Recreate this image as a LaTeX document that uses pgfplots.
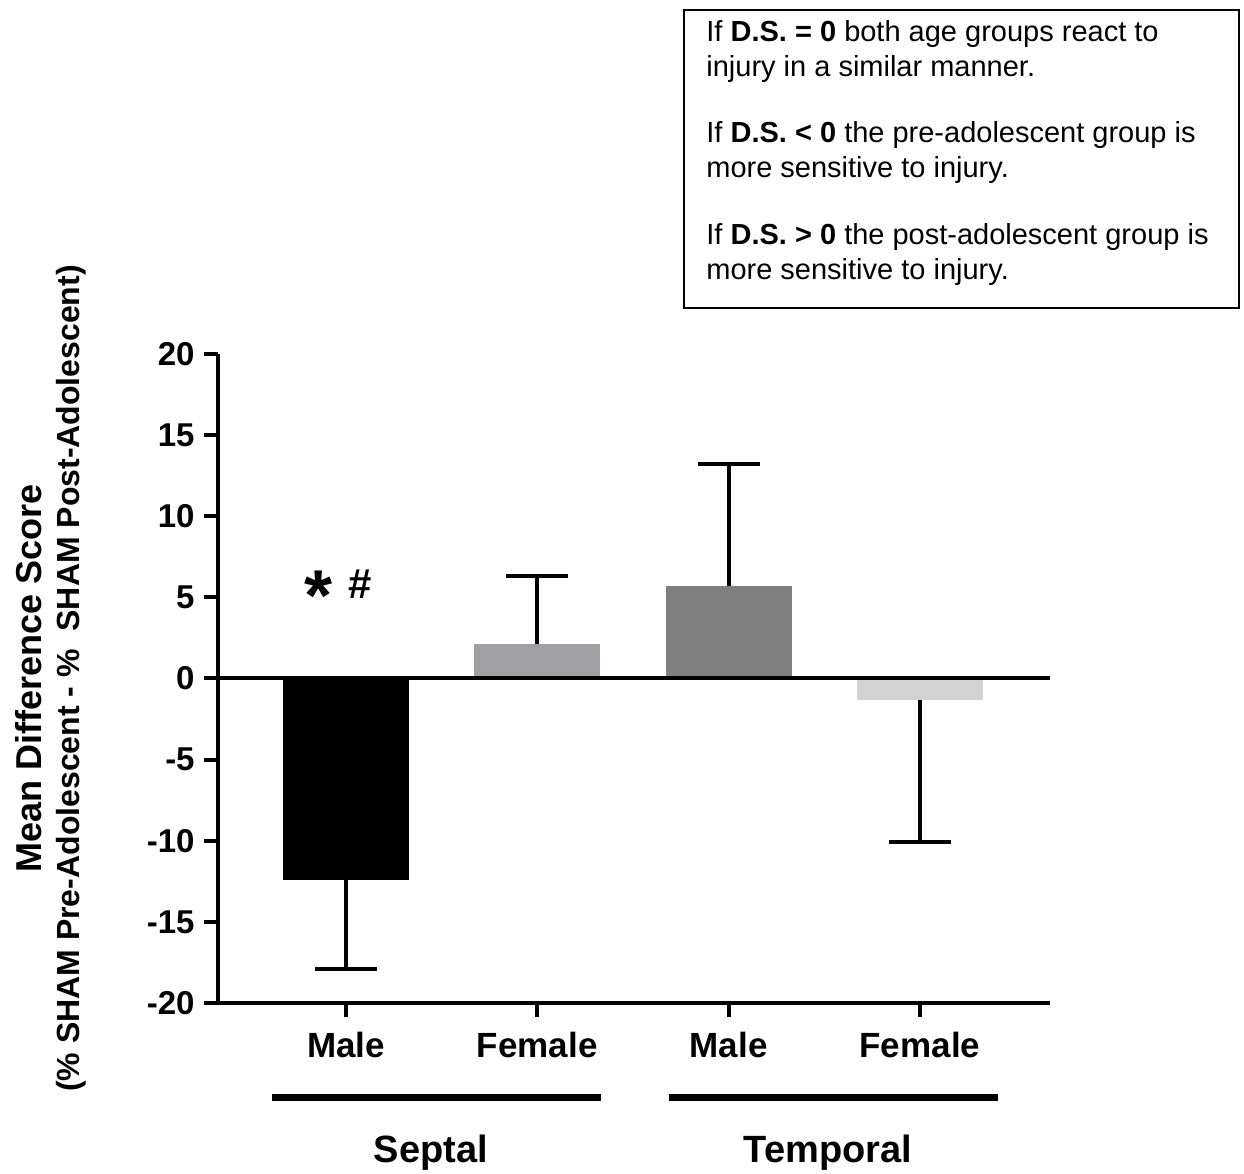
\documentclass[border=0pt]{standalone}
\usepackage{fontspec}
\setmainfont{Liberation Sans}
\usepackage{pgfplots}
\pgfplotsset{compat=1.18}
\definecolor{gA}{RGB}{160,160,164}
\definecolor{gB}{RGB}{128,128,128}
\definecolor{gC}{RGB}{211,211,211}
\begin{document}
\begin{tikzpicture}
\useasboundingbox (-109pt,-85.5pt) rectangle (513pt,501.5pt);
\begin{axis}[
  at={(0pt,0pt)}, anchor=south west,
  scale only axis, width=416pt, height=324.5pt,
  xmin=-0.669, xmax=3.68, ymin=-20, ymax=20,
  axis x line=bottom, axis y line=left,
  axis line style={-, line width=2pt, black},
  ytick={-20,-15,...,20},
  xtick={0,1,2,3},
  xticklabels={Male,Female,Male,Female},
  tick align=outside, major tick length=7pt,
  tick style={line width=2pt, black},
  /pgf/number format/assume math mode=true,
  yticklabel style={font=\bfseries\fontsize{16.5}{18}\selectfont, inner sep=0pt, anchor=east, xshift=-4.5pt},
  xticklabel style={font=\bfseries\fontsize{17.5}{19}\selectfont, inner sep=0pt, anchor=base, yshift=-20pt},
  clip=false,
]
\addplot[ybar, bar width=63pt, bar shift=0pt, fill=black, draw=none,
  error bars/.cd, y dir=minus, y explicit,
  error bar style={line width=2pt, black},
  error mark options={rotate=90, line width=2pt, black, mark size=15.5pt}]
  coordinates {(0,-12.4) +- (0,5.5)};
\addplot[ybar, bar width=63pt, bar shift=0pt, fill=gA, draw=none,
  error bars/.cd, y dir=plus, y explicit,
  error bar style={line width=2pt, black},
  error mark options={rotate=90, line width=2pt, black, mark size=15.5pt}]
  coordinates {(1,2.1) +- (0,4.2)};
\addplot[ybar, bar width=63pt, bar shift=0pt, fill=gB, draw=none,
  error bars/.cd, y dir=plus, y explicit,
  error bar style={line width=2pt, black},
  error mark options={rotate=90, line width=2pt, black, mark size=15.5pt}]
  coordinates {(2,5.7) +- (0,7.5)};
\addplot[ybar, bar width=63pt, bar shift=0pt, fill=gC, draw=none,
  error bars/.cd, y dir=minus, y explicit,
  error bar style={line width=2pt, black},
  error mark options={rotate=90, line width=2pt, black, mark size=15.5pt}]
  coordinates {(3,-1.3) +- (0,8.75)};
\draw[line width=2pt] (axis cs:-0.669,0) -- (axis cs:3.68,0);
\node[anchor=base, inner sep=0pt, font=\bfseries\fontsize{36}{36}\selectfont] at (axis cs:-0.145,3.6) {*};
\node[anchor=base, inner sep=0pt, font=\bfseries\fontsize{21}{22}\selectfont] at (axis cs:0.076,4.9) {\#};
\end{axis}
% y label
\node[rotate=90, anchor=base, inner sep=0pt, font=\bfseries\fontsize{18}{20}\selectfont] at (-88pt,162.25pt) {Mean Difference Score};
\node[rotate=90, anchor=base, inner sep=0pt, font=\bfseries\fontsize{16}{18}\selectfont] at (-69pt,162.25pt) {(\% SHAM Pre-Adolescent - \%\ \ SHAM Post-Adolescent)};
% group lines
\draw[line width=3.5pt] (27pt,-47.5pt) -- (191.5pt,-47.5pt);
\draw[line width=3.5pt] (225.5pt,-47.5pt) -- (390pt,-47.5pt);
\node[anchor=base, inner sep=0pt, font=\bfseries\fontsize{19}{21}\selectfont] at (106.5pt,-80pt) {Septal};
\node[anchor=base, inner sep=0pt, font=\bfseries\fontsize{19}{21}\selectfont] at (305pt,-80pt) {Temporal};
% info box
\draw[line width=0.8pt] (233pt,347.5pt) rectangle (510.5pt,496.5pt);
\begin{scope}[every node/.style={anchor=base west, inner sep=0pt, font=\fontsize{14.5}{17}\selectfont}]
\node at (244pt,480.5pt) {If \textbf{D.S. = 0} both age groups react to};
\node at (244pt,463pt) {injury in a similar manner.};
\node at (244pt,430pt) {If \textbf{D.S. < 0} the pre-adolescent group is};
\node at (244pt,412.5pt) {more sensitive to injury.};
\node at (244pt,379pt) {If \textbf{D.S. > 0} the post-adolescent group is};
\node at (244pt,361.5pt) {more sensitive to injury.};
\end{scope}
\end{tikzpicture}
\end{document}
